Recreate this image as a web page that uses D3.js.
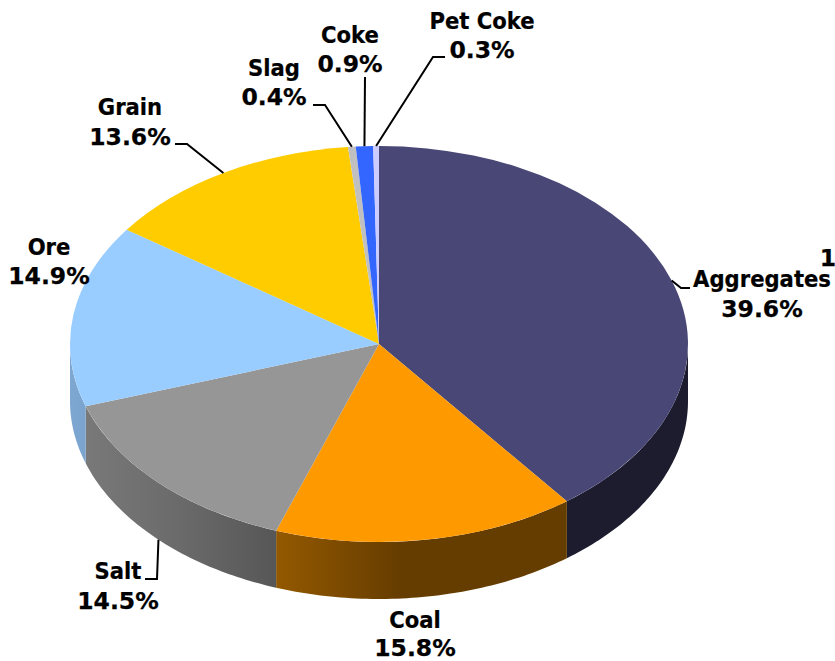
<!DOCTYPE html>
<html><head><meta charset="utf-8">
<script src="https://cdn.jsdelivr.net/npm/d3@7"></script>
<style>html,body{margin:0;padding:0;background:#fff;overflow:hidden}svg{display:block}
text{font-family:"DejaVu Sans",sans-serif;font-weight:700;font-size:23.5px;fill:#000;stroke:#000;stroke-width:.25px;text-anchor:middle}</style>
</head><body><svg id="c" width="835" height="661"></svg>
<script>
const categories=["Aggregates","Coal","Salt","Ore","Grain","Slag","Coke","Pet Coke"];
const shares=[39.6,15.8,14.5,14.9,13.6,0.4,0.9,0.3];
const colors=["#494776","#ff9900","#969696","#99ccff","#ffcc00","#c0c0c0","#3366ff","#ccccff"];
const cx=379,cy=344,rx=309,ry=198,depth=57;
// label centre x, line baselines
const labelPos=[[762,287,317],[415,628,656],[118,579,609],[49,255,284],[130,115,145],[274,76,105],[350,43,72],[482,29,58]];
// leader polyline after the anchor point on the rim (null: no leader)
const leaders=[[[681,288],[690,288]],null,[[157,579],[145,579]],null,[[187,144],[175,144]],[[325,105],[313,105]],[[365,77]],[[433,57],[445,57]]];
const shadeX=[70,170,275,400,835], shadeK=[0.82,0.72,0.58,0.4,0.4];

const svg=d3.select("#c"), defs=svg.append("defs");
const arcs=d3.pie().sort(null).value(d=>d)(shares);
const px=a=>cx+rx*Math.sin(a), py=a=>cy-ry*Math.cos(a);
const shade=d3.scaleLinear().domain(shadeX).range(shadeK);

// side walls: only the part of each slice facing the viewer
const wall=svg.append("g");
arcs.forEach((d,i)=>{
  const a0=Math.max(d.startAngle,Math.PI/2), a1=Math.min(d.endAngle,3*Math.PI/2);
  if(a1<=a0) return;
  const as=d3.range(0,61).map(k=>a0+(a1-a0)*k/60);
  const top=as.map(a=>[px(a),py(a)]), bot=as.slice().reverse().map(a=>[px(a),py(a)+depth]);
  const id="w"+i, c=d3.rgb(colors[i]);
  const g=defs.append("linearGradient").attr("id",id).attr("gradientUnits","userSpaceOnUse")
    .attr("x1",0).attr("x2",835).attr("y1",0).attr("y2",0);
  shadeX.forEach(x=>{const k=shade(x);
    g.append("stop").attr("offset",x/835).attr("stop-color",d3.rgb(c.r*k,c.g*k,c.b*k).formatHex());});
  wall.append("path").attr("d",d3.line()(top.concat(bot))+"Z").attr("fill",`url(#${id})`);
});

// top face
const arc=d3.arc().innerRadius(0).outerRadius(rx);
svg.append("g").attr("transform",`translate(${cx},${cy}) scale(1,${ry/rx})`)
  .selectAll("path").data(arcs).join("path").attr("d",arc).attr("fill",(d,i)=>colors[i]);

// leaders
const leaderG=svg.append("g").attr("fill","none").attr("stroke","#000").attr("stroke-width",2);
arcs.forEach((d,i)=>{
  if(!leaders[i]) return;
  const m=(d.startAngle+d.endAngle)/2;
  const front=m>Math.PI/2&&m<3*Math.PI/2;
  leaderG.append("path").attr("d",d3.line()([[px(m),py(m)+(front?depth:0)],...leaders[i]]));
});

// labels
categories.forEach((n,i)=>{
  const [x,y1,y2]=labelPos[i];
  // names are condensed horizontally, as in the reference's bold face
  svg.append("text").attr("transform",`translate(${x},${y1}) scale(0.9,1)`).text(n);
  svg.append("text").attr("x",x).attr("y",y2).text(shares[i].toFixed(1)+"%");
});
svg.append("text").attr("x",828).attr("y",266).text("1");
</script></body></html>
